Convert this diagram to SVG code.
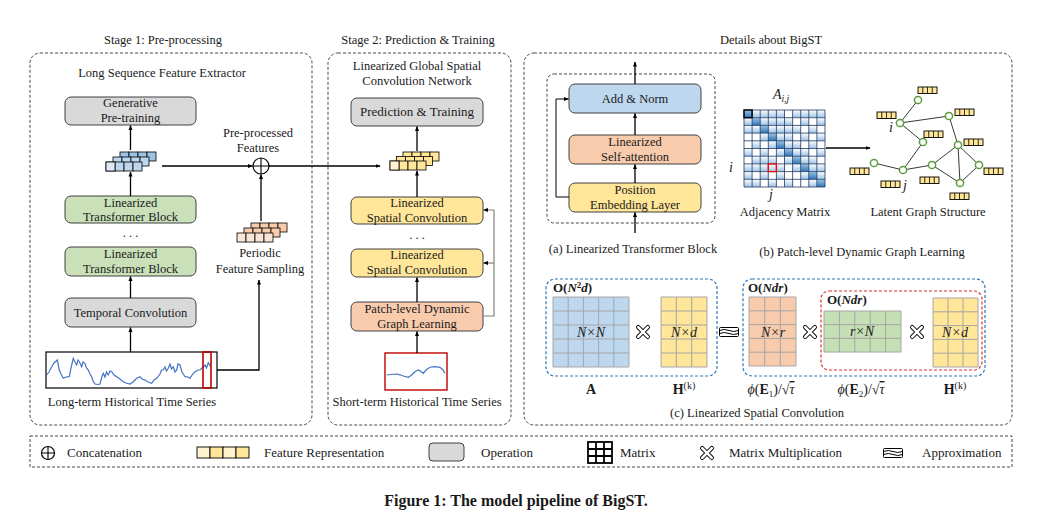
<svg xmlns="http://www.w3.org/2000/svg" xmlns:xlink="http://www.w3.org/1999/xlink" width="1045" height="520" viewBox="0 0 1045 520">
<style>
text{font-family:"Liberation Serif","Times New Roman",serif;font-size:12.5px;fill:#1a1a1a}
.c{text-anchor:middle}
.stage{fill:none;stroke:#333;stroke-width:0.9;stroke-dasharray:3 2}
.op{fill:#d9d9d9;stroke:#404040;stroke-width:1}
.gr{fill:#c9e0b9;stroke:#404040;stroke-width:1}
.ye{fill:#ffe699;stroke:#404040;stroke-width:1}
.or{fill:#f8cbad;stroke:#404040;stroke-width:1}
.bl{fill:#bdd7ee;stroke:#404040;stroke-width:1}
.ar{fill:none;stroke:#000;stroke-width:1.3;marker-end:url(#ah)}
.ln{fill:none;stroke:#000;stroke-width:1.3}
.gar{fill:none;stroke:#808080;stroke-width:1.2;marker-end:url(#ah)}
.mg{stroke:#a6a6a6;stroke-width:1}
.node{fill:#fff;stroke:#5b9b3a;stroke-width:1.5}
.edge{stroke:#222;stroke-width:0.9}
.m{font-style:italic}
.b{font-weight:bold}
.ov{text-decoration:overline}
</style>
<defs>
<marker id="ah" viewBox="0 0 10 10" refX="9" refY="5" markerWidth="5" markerHeight="5" orient="auto" markerUnits="userSpaceOnUse"><path d="M0,1 L10,5 L0,9 z" fill="#000"/></marker>
<g id="row4" stroke="#000" stroke-width="0.8"><rect x="0" y="0" width="9" height="9"/><rect x="9" y="0" width="9" height="9"/><rect x="18" y="0" width="9" height="9"/><rect x="27" y="0" width="9" height="9"/></g>
<g id="fbar"><rect x="0" y="0" width="19" height="6.5" fill="#ffe699" stroke="#000" stroke-width="0.9"/><path d="M4.75,0v6.5M9.5,0v6.5M14.25,0v6.5" stroke="#000" stroke-width="0.8"/></g>
<g id="mul"><path d="M-4.8,-4.8L4.8,4.8M-4.8,4.8L4.8,-4.8" stroke="#000" stroke-width="4.4" stroke-linecap="round"/><path d="M-4.8,-4.8L4.8,4.8M-4.8,4.8L4.8,-4.8" stroke="#fff" stroke-width="2.6" stroke-linecap="round"/></g>
<g id="apx" fill="none" stroke="#000" stroke-width="1"><rect x="-9.5" y="-4.5" width="19" height="9" rx="1"/><path d="M-9.5,-1.5 q4.75,-2 9.5,0 t9.5,0"/><path d="M-9.5,1.5 q4.75,-2 9.5,0 t9.5,0"/></g>
<linearGradient id="lg" x1="0" y1="0" x2="0" y2="1"><stop offset="0" stop-color="#ffffff"/><stop offset="1" stop-color="#9dc3e6"/></linearGradient>
<linearGradient id="dg" x1="0" y1="0" x2="0" y2="1"><stop offset="0" stop-color="#9dc3e6"/><stop offset="1" stop-color="#2e75b6"/></linearGradient>
</defs>

<rect width="1045" height="520" fill="#fff"/>

<g id="stage1">
<text class="c" x="163" y="44">Stage 1: Pre-processing</text>
<rect class="stage" x="30" y="53" width="282" height="372" rx="10"/>
<text class="c" x="162" y="77">Long Sequence Feature Extractor</text>
</g>
<g id="stage2">
<text class="c" x="418" y="44">Stage 2: Prediction &amp; Training</text>
<rect class="stage" x="328" y="53" width="183" height="372" rx="10"/>
<text class="c" x="417" y="70">Linearized Global Spatial</text>
<text class="c" x="417" y="85">Convolution Network</text>
</g>
<g id="stage3">
<text class="c" x="771" y="44">Details about BigST</text>
<rect class="stage" x="524" y="53" width="488" height="372" rx="10"/>
</g>

<g id="gen-pretrain"><rect class="op" x="65" y="97" width="131" height="28" rx="6"/><text class="c" x="130.5" y="107">Generative</text><text class="c" x="130.5" y="122">Pre-training</text></g>
<g id="ltb1"><rect class="gr" x="65" y="196" width="131" height="27" rx="6"/><text class="c" x="130.5" y="207">Linearized</text><text class="c" x="130.5" y="221">Transformer Block</text></g>
<text class="c" x="130.5" y="237">. . .</text>
<g id="ltb2"><rect class="gr" x="65" y="247" width="131" height="29" rx="6"/><text class="c" x="130.5" y="258">Linearized</text><text class="c" x="130.5" y="273">Transformer Block</text></g>
<g id="temporal-conv"><rect class="op" x="65" y="298" width="131" height="29" rx="6"/><text class="c" x="130.5" y="317">Temporal Convolution</text></g>
<g id="long-series">
<rect x="46" y="352" width="171" height="36" fill="#fff" stroke="#000" stroke-width="1.2"/>
<polyline fill="none" stroke="#4472c4" stroke-width="1.2" points="46.7,375 49,372 51.7,366.7 54,363 57.3,360 59.3,370 61,374 63.3,378.3 66,377 69.3,376.7 71,368 73.3,358.3 75,362 76.7,365 78,360 79.3,361.7 81.7,366.7 83,362 85,363.3 86.5,368 88.3,370 90,374 91.7,376.7 93,381 95,384 98,384.5 100,384 101.5,378 103.3,373.3 105,377 106.5,372 108.3,375 110,371 111.7,371.7 114,375 116.7,376.7 120,379 123.3,381.7 126,383 130,384 133,382 136.7,378.3 140,376.7 142,379 145,380 148,382 151.7,383.3 154,380 156.7,378.3 160,374 161.5,370 163.3,370 165,367 166.5,371 168.3,368.3 170,364 171.5,369 173.3,366.7 175,372 176.7,370 178,364 180,365 182,372 185,376.7 188,377 190,378.3 192,375 195,371.7 198,370 200,370 202.7,367.3 205,365 206.5,368 208.3,362.7 210.7,366.7"/>
<rect x="203" y="352" width="8" height="36" fill="none" stroke="#c00000" stroke-width="1.6"/>
<text class="c" x="132" y="406">Long-term Historical Time Series</text>
</g>
<g id="blue-features">
<use href="#row4" x="120" y="152" fill="#9dc3e6"/>
<use href="#row4" x="113" y="157" fill="#bdd7ee"/>
<use href="#row4" x="106" y="162" fill="#bdd7ee"/>
<rect x="106" y="162" width="9" height="9" fill="#deebf7" stroke="#000" stroke-width="0.8"/>
</g>
<g id="concat"><circle cx="261" cy="166" r="8" fill="#fff" stroke="#000" stroke-width="1.2"/><path d="M253,166H269M261,158V174" stroke="#000" stroke-width="1.1"/>
<text class="c" x="258" y="137">Pre-processed</text><text class="c" x="258" y="152">Features</text></g>
<g id="periodic-features">
<use href="#row4" x="251" y="223" fill="#f8cbad"/>
<use href="#row4" x="244" y="228" fill="#f8cbad"/>
<use href="#row4" x="237" y="233" fill="#fbe5d6"/>
<text class="c" x="260" y="257">Periodic</text><text class="c" x="260" y="273">Feature Sampling</text>
</g>

<g id="pred-train"><rect class="op" x="351" y="98" width="132" height="28" rx="6"/><text class="c" x="417" y="116" style="font-size:13px">Prediction &amp; Training</text></g>
<g id="yellow-features">
<use href="#row4" x="403" y="152" fill="#ffe699"/>
<use href="#row4" x="396.5" y="156.5" fill="#ffe699"/>
<use href="#row4" x="390" y="161" fill="#ffe699"/>
<rect x="390" y="161" width="9" height="9" fill="#fff2cc" stroke="#000" stroke-width="0.8"/>
</g>
<g id="lsc1"><rect class="ye" x="351" y="197" width="132" height="27" rx="6"/><text class="c" x="417" y="207">Linearized</text><text class="c" x="417" y="222">Spatial Convolution</text></g>
<text class="c" x="417" y="239">. . .</text>
<g id="lsc2"><rect class="ye" x="351" y="249" width="132" height="28" rx="6"/><text class="c" x="417" y="259">Linearized</text><text class="c" x="417" y="274">Spatial Convolution</text></g>
<g id="pdgl"><rect class="or" x="351" y="302" width="132" height="29" rx="6"/><text class="c" x="417" y="313">Patch-level Dynamic</text><text class="c" x="417" y="328">Graph Learning</text></g>
<g id="short-series">
<rect x="385" y="353" width="62" height="37" fill="#fff" stroke="#c00000" stroke-width="1.4"/>
<polyline fill="none" stroke="#4472c4" stroke-width="1.2" points="386.7,375 391,374.5 396.7,374 400,374.8 403.3,376 408.3,377.3 411,375.5 413.3,373.3 416,371 418.3,370 421,371.5 423.3,373.3 426,370 428.3,368.3 431,367 435,366.7 440,367.3 443,370 445,373.3"/>
<text class="c" x="417" y="406">Short-term Historical Time Series</text>
</g>

<g id="ltb-detail">
<rect class="stage" x="547" y="74" width="168" height="149" rx="7"/>
<g id="add-norm"><rect class="bl" x="569" y="84" width="132" height="29" rx="6"/><text class="c" x="635" y="103">Add &amp; Norm</text></g>
<g id="self-attn"><rect class="or" x="569" y="135" width="132" height="29" rx="6"/><text class="c" x="635" y="146">Linearized</text><text class="c" x="635" y="161">Self-attention</text></g>
<g id="pos-emb"><rect class="ye" x="569" y="183" width="132" height="29" rx="6"/><text class="c" x="635" y="194">Position</text><text class="c" x="635" y="209">Embedding Layer</text></g>
<text class="c" x="633" y="253">(a) Linearized Transformer Block</text>
</g>

<g id="adjacency">
<text class="c m" x="781" y="99" style="font-size:14px">A<tspan font-size="9.5" dy="3">i,j</tspan></text>
<g fill="url(#lg)">
<rect x="744" y="110" width="81" height="7.7"/><rect x="744" y="117.7" width="81" height="7.7"/><rect x="744" y="125.4" width="81" height="7.7"/><rect x="744" y="133.1" width="81" height="7.7"/><rect x="744" y="140.8" width="81" height="7.7"/><rect x="744" y="148.5" width="81" height="7.7"/><rect x="744" y="156.2" width="81" height="7.7"/><rect x="744" y="163.9" width="81" height="7.7"/><rect x="744" y="171.6" width="81" height="7.7"/><rect x="744" y="179.3" width="81" height="7.7"/>
</g>
<g fill="#fff">
<rect x="784.5" y="110" width="8.1" height="7.7"/>
<rect x="792.6" y="117.7" width="8.1" height="7.7"/><rect x="808.8" y="117.7" width="8.1" height="7.7"/>
<rect x="800.7" y="125.4" width="8.1" height="7.7"/><rect x="816.9" y="125.4" width="8.1" height="7.7"/>
<rect x="744" y="133.1" width="8.1" height="7.7"/><rect x="752.1" y="133.1" width="8.1" height="7.7"/><rect x="792.6" y="133.1" width="8.1" height="7.7"/><rect x="808.8" y="133.1" width="8.1" height="7.7"/>
<rect x="744" y="140.8" width="8.1" height="7.7"/><rect x="760.2" y="140.8" width="8.1" height="7.7"/><rect x="800.7" y="140.8" width="8.1" height="7.7"/><rect x="816.9" y="140.8" width="8.1" height="7.7"/>
<rect x="752.1" y="148.5" width="8.1" height="7.7"/><rect x="768.3" y="148.5" width="8.1" height="7.7"/><rect x="808.8" y="148.5" width="8.1" height="7.7"/>
<rect x="744" y="156.2" width="8.1" height="7.7"/><rect x="776.4" y="156.2" width="8.1" height="7.7"/><rect x="816.9" y="156.2" width="8.1" height="7.7"/>
<rect x="784.5" y="163.9" width="8.1" height="7.7"/><rect x="800.7" y="163.9" width="8.1" height="7.7"/>
<rect x="752.1" y="171.6" width="8.1" height="7.7"/><rect x="768.3" y="171.6" width="8.1" height="7.7"/><rect x="784.5" y="171.6" width="8.1" height="7.7"/><rect x="792.6" y="171.6" width="8.1" height="7.7"/>
<rect x="760.2" y="179.3" width="8.1" height="7.7"/><rect x="776.4" y="179.3" width="8.1" height="7.7"/><rect x="792.6" y="179.3" width="8.1" height="7.7"/><rect x="800.7" y="179.3" width="8.1" height="7.7"/>
</g>
<g fill="url(#dg)">
<rect x="744" y="110" width="8.1" height="7.7"/><rect x="752.1" y="117.7" width="8.1" height="7.7"/><rect x="760.2" y="125.4" width="8.1" height="7.7"/><rect x="768.3" y="133.1" width="8.1" height="7.7"/><rect x="776.4" y="140.8" width="8.1" height="7.7"/><rect x="784.5" y="148.5" width="8.1" height="7.7"/><rect x="792.6" y="156.2" width="8.1" height="7.7"/><rect x="800.7" y="163.9" width="8.1" height="7.7"/><rect x="808.8" y="171.6" width="8.1" height="7.7"/><rect x="816.9" y="179.3" width="8.1" height="7.7"/>
</g>
<path fill="none" stroke="#1f3864" stroke-width="0.8" d="M744,110H825M744,117.7H825M744,125.4H825M744,133.1H825M744,140.8H825M744,148.5H825M744,156.2H825M744,163.9H825M744,171.6H825M744,179.3H825M744,187H825M744,110V187M752.1,110V187M760.2,110V187M768.3,110V187M776.4,110V187M784.5,110V187M792.6,110V187M800.7,110V187M808.8,110V187M816.9,110V187M825,110V187"/>
<rect x="744" y="110" width="8.1" height="7.7" fill="none" stroke="#000" stroke-width="1.4"/>
<rect x="768.3" y="163.9" width="8.1" height="7.7" fill="none" stroke="#ff0000" stroke-width="1.3"/>
<text class="m" x="729" y="172" style="font-size:14px">i</text>
<text class="m c" x="771" y="199" style="font-size:14px">j</text>
<text class="c" x="785" y="216">Adjacency Matrix</text>
</g>
<g id="latent-graph">
<g class="edge">
<line x1="918" y1="100" x2="900" y2="123"/><line x1="900" y1="123" x2="949" y2="116"/><line x1="900" y1="123" x2="923" y2="142"/><line x1="923" y1="142" x2="903" y2="170"/><line x1="874" y1="163" x2="903" y2="170"/><line x1="903" y1="170" x2="932" y2="165"/><line x1="932" y1="165" x2="958" y2="145"/><line x1="932" y1="165" x2="960" y2="183"/><line x1="958" y1="145" x2="960" y2="183"/><line x1="958" y1="145" x2="979" y2="165"/><line x1="979" y1="165" x2="960" y2="183"/><line x1="949" y1="116" x2="958" y2="145"/>
</g>
<g class="node">
<circle cx="918" cy="100" r="3.6"/><circle cx="900" cy="123" r="3.6"/><circle cx="949" cy="116" r="3.6"/><circle cx="923" cy="142" r="3.6"/><circle cx="958" cy="145" r="3.6"/><circle cx="874" cy="163" r="3.6"/><circle cx="903" cy="170" r="3.6"/><circle cx="932" cy="165" r="3.6"/><circle cx="979" cy="165" r="3.6"/><circle cx="960" cy="183" r="3.6"/>
</g>
<use href="#fbar" x="918" y="87"/><use href="#fbar" x="877" y="112"/><use href="#fbar" x="955" y="109"/><use href="#fbar" x="924" y="131"/><use href="#fbar" x="964" y="139"/><use href="#fbar" x="850" y="168"/><use href="#fbar" x="881" y="181"/><use href="#fbar" x="920" y="177"/><use href="#fbar" x="984" y="168"/><use href="#fbar" x="950" y="193"/>
<text class="m" x="889" y="132" style="font-size:14px">i</text>
<text class="m" x="903" y="190" style="font-size:14px">j</text>
<text class="c" x="928" y="216">Latent Graph Structure</text>
</g>
<text class="c" x="862" y="256">(b) Patch-level Dynamic Graph Learning</text>

<g id="spatial-conv">
<rect x="546" y="279" width="171" height="97" rx="9" fill="none" stroke="#2e75b6" stroke-width="1.2" stroke-dasharray="3 2"/>
<rect x="743" y="279" width="242" height="97" rx="9" fill="none" stroke="#2e75b6" stroke-width="1.2" stroke-dasharray="3 2"/>
<rect x="821" y="291" width="161" height="79" rx="8" fill="none" stroke="#e03030" stroke-width="1.2" stroke-dasharray="3 2"/>
<text class="b" x="553" y="292" style="font-size:13px">O(<tspan class="m">N</tspan><tspan font-size="9" dy="-4">2</tspan><tspan class="m" dy="4">d</tspan>)</text>
<text class="b" x="748" y="292" style="font-size:13px">O(<tspan class="m">Ndr</tspan>)</text>
<text class="b" x="827" y="304" style="font-size:13px">O(<tspan class="m">Ndr</tspan>)</text>
<g id="mat-A"><rect x="553" y="297" width="76" height="70" fill="#bdd7ee"/><path class="mg" d="M553,297H629M553,311H629M553,325H629M553,339H629M553,353H629M553,367H629M553,297V367M568.2,297V367M583.4,297V367M598.6,297V367M613.8,297V367M629,297V367"/><text class="c m" x="591" y="337" style="font-size:14px">N×N</text></g>
<g id="mat-H1"><rect x="661" y="297" width="46" height="70" fill="#ffe699"/><path class="mg" d="M661,297H707M661,311H707M661,325H707M661,339H707M661,353H707M661,367H707M661,297V367M676.3,297V367M691.7,297V367M707,297V367"/><text class="c m" x="684" y="337" style="font-size:14px">N×d</text></g>
<g id="mat-E1"><rect x="749" y="297" width="47" height="69" fill="#f8cbad"/><path class="mg" d="M749,297H796M749,310.8H796M749,324.6H796M749,338.4H796M749,352.2H796M749,366H796M749,297V366M764.7,297V366M780.3,297V366M796,297V366"/><text class="c m" x="773" y="337" style="font-size:14px">N×r</text></g>
<g id="mat-E2"><rect x="824" y="311" width="77" height="41" fill="#c5e0b4"/><path class="mg" d="M824,311H901M824,324.7H901M824,338.3H901M824,352H901M824,311V352M839.4,311V352M854.8,311V352M870.2,311V352M885.6,311V352M901,311V352"/><text class="c m" x="862" y="336" style="font-size:14px">r×N</text></g>
<g id="mat-H2"><rect x="933" y="298" width="45" height="69" fill="#ffe699"/><path class="mg" d="M933,298H978M933,311.8H978M933,325.6H978M933,339.4H978M933,353.2H978M933,367H978M933,298V367M948,298V367M963,298V367M978,298V367"/><text class="c m" x="955" y="337" style="font-size:14px">N×d</text></g>
<use href="#mul" x="643" y="332"/><use href="#mul" x="810" y="332"/><use href="#mul" x="917" y="332"/>
<use href="#apx" x="729" y="332"/>
<text class="c b" x="591" y="394" style="font-size:14px">A</text>
<text class="c" x="684" y="394" style="font-size:14px"><tspan class="b">H</tspan><tspan font-size="10" dy="-5">(k)</tspan></text>
<text class="c" x="955" y="394" style="font-size:14px"><tspan class="b">H</tspan><tspan font-size="10" dy="-5">(k)</tspan></text>
<text class="c" x="771" y="394" style="font-size:14px"><tspan class="m">ϕ</tspan>(<tspan class="b">E</tspan><tspan font-size="9" dy="2.5">1</tspan><tspan dy="-2.5">)/√</tspan><tspan class="m ov">τ</tspan></text>
<text class="c" x="861" y="394" style="font-size:14px"><tspan class="m">ϕ</tspan>(<tspan class="b">E</tspan><tspan font-size="9" dy="2.5">2</tspan><tspan dy="-2.5">)/√</tspan><tspan class="m ov">τ</tspan></text>
<text class="c" x="757" y="417">(c) Linearized Spatial Convolution</text>
</g>

<g id="connectors">
<line class="ar" x1="130.5" y1="150" x2="130.5" y2="125.5"/>
<line class="ar" x1="130.5" y1="196" x2="130.5" y2="172"/>
<line class="ar" x1="130.5" y1="298" x2="130.5" y2="276.5"/>
<line class="ar" x1="130.5" y1="352" x2="130.5" y2="327.5"/>
<line class="ar" x1="162" y1="166" x2="252.5" y2="166"/>
<line class="ar" x1="269" y1="166" x2="380" y2="166"/>
<line class="ar" x1="261" y1="221" x2="261" y2="174.5"/>
<polyline class="ar" points="217,370 259,370 259,280"/>
<line class="ar" x1="417" y1="151" x2="417" y2="126.5"/>
<line class="ar" x1="417" y1="197" x2="417" y2="171"/>
<line class="ar" x1="417" y1="302" x2="417" y2="277.5"/>
<line class="ar" x1="417" y1="353" x2="417" y2="331.5"/>
<polyline class="gar" points="483,316 494,316 494,210 483.5,210"/>
<line class="gar" x1="494" y1="263" x2="483.5" y2="263"/>
<line class="ar" x1="635" y1="233" x2="635" y2="212.5"/>
<line class="ar" x1="635" y1="183" x2="635" y2="164.5"/>
<line class="ar" x1="635" y1="135" x2="635" y2="113.5"/>
<line class="ar" x1="635" y1="84" x2="635" y2="62"/>
<polyline class="ar" points="569,197 556,197 556,99 568.5,99" style="stroke-width:1"/>
<line class="ar" x1="826" y1="148" x2="870" y2="148"/>
</g>

<g id="legend">
<rect class="stage" x="30" y="436" width="982" height="31"/>
<circle cx="48" cy="453" r="6.5" fill="#fff" stroke="#000" stroke-width="1.2"/><path d="M41.5,453H54.5M48,446.5V459.5" stroke="#000" stroke-width="1.1"/>
<text x="67" y="457" style="font-size:13px">Concatenation</text>
<rect x="197" y="447" width="13" height="11" fill="#fff2cc" stroke="#000" stroke-width="0.9"/><rect x="210" y="447" width="13" height="11" fill="#ffe699" stroke="#000" stroke-width="0.9"/><rect x="223" y="447" width="13" height="11" fill="#fff2cc" stroke="#000" stroke-width="0.9"/><rect x="236" y="447" width="13" height="11" fill="#ffe699" stroke="#000" stroke-width="0.9"/>
<text x="264" y="457" style="font-size:13px">Feature Representation</text>
<rect x="429" y="443" width="35" height="18" rx="4" fill="#d9d9d9" stroke="#404040" stroke-width="1"/>
<text x="481" y="457" style="font-size:13px">Operation</text>
<g fill="none" stroke="#000" stroke-width="1.8"><rect x="588" y="442" width="24" height="21"/><path d="M596,442V463M604,442V463M588,449H612M588,456H612"/></g>
<text x="620" y="457" style="font-size:13px">Matrix</text>
<use href="#mul" x="707" y="453"/>
<text x="729" y="457" style="font-size:13px">Matrix Multiplication</text>
<use href="#apx" x="893" y="453"/>
<text x="922" y="457" style="font-size:13px">Approximation</text>
</g>

<text class="c b" x="516" y="506" style="font-size:16px">Figure 1: The model pipeline of BigST.</text>
</svg>
